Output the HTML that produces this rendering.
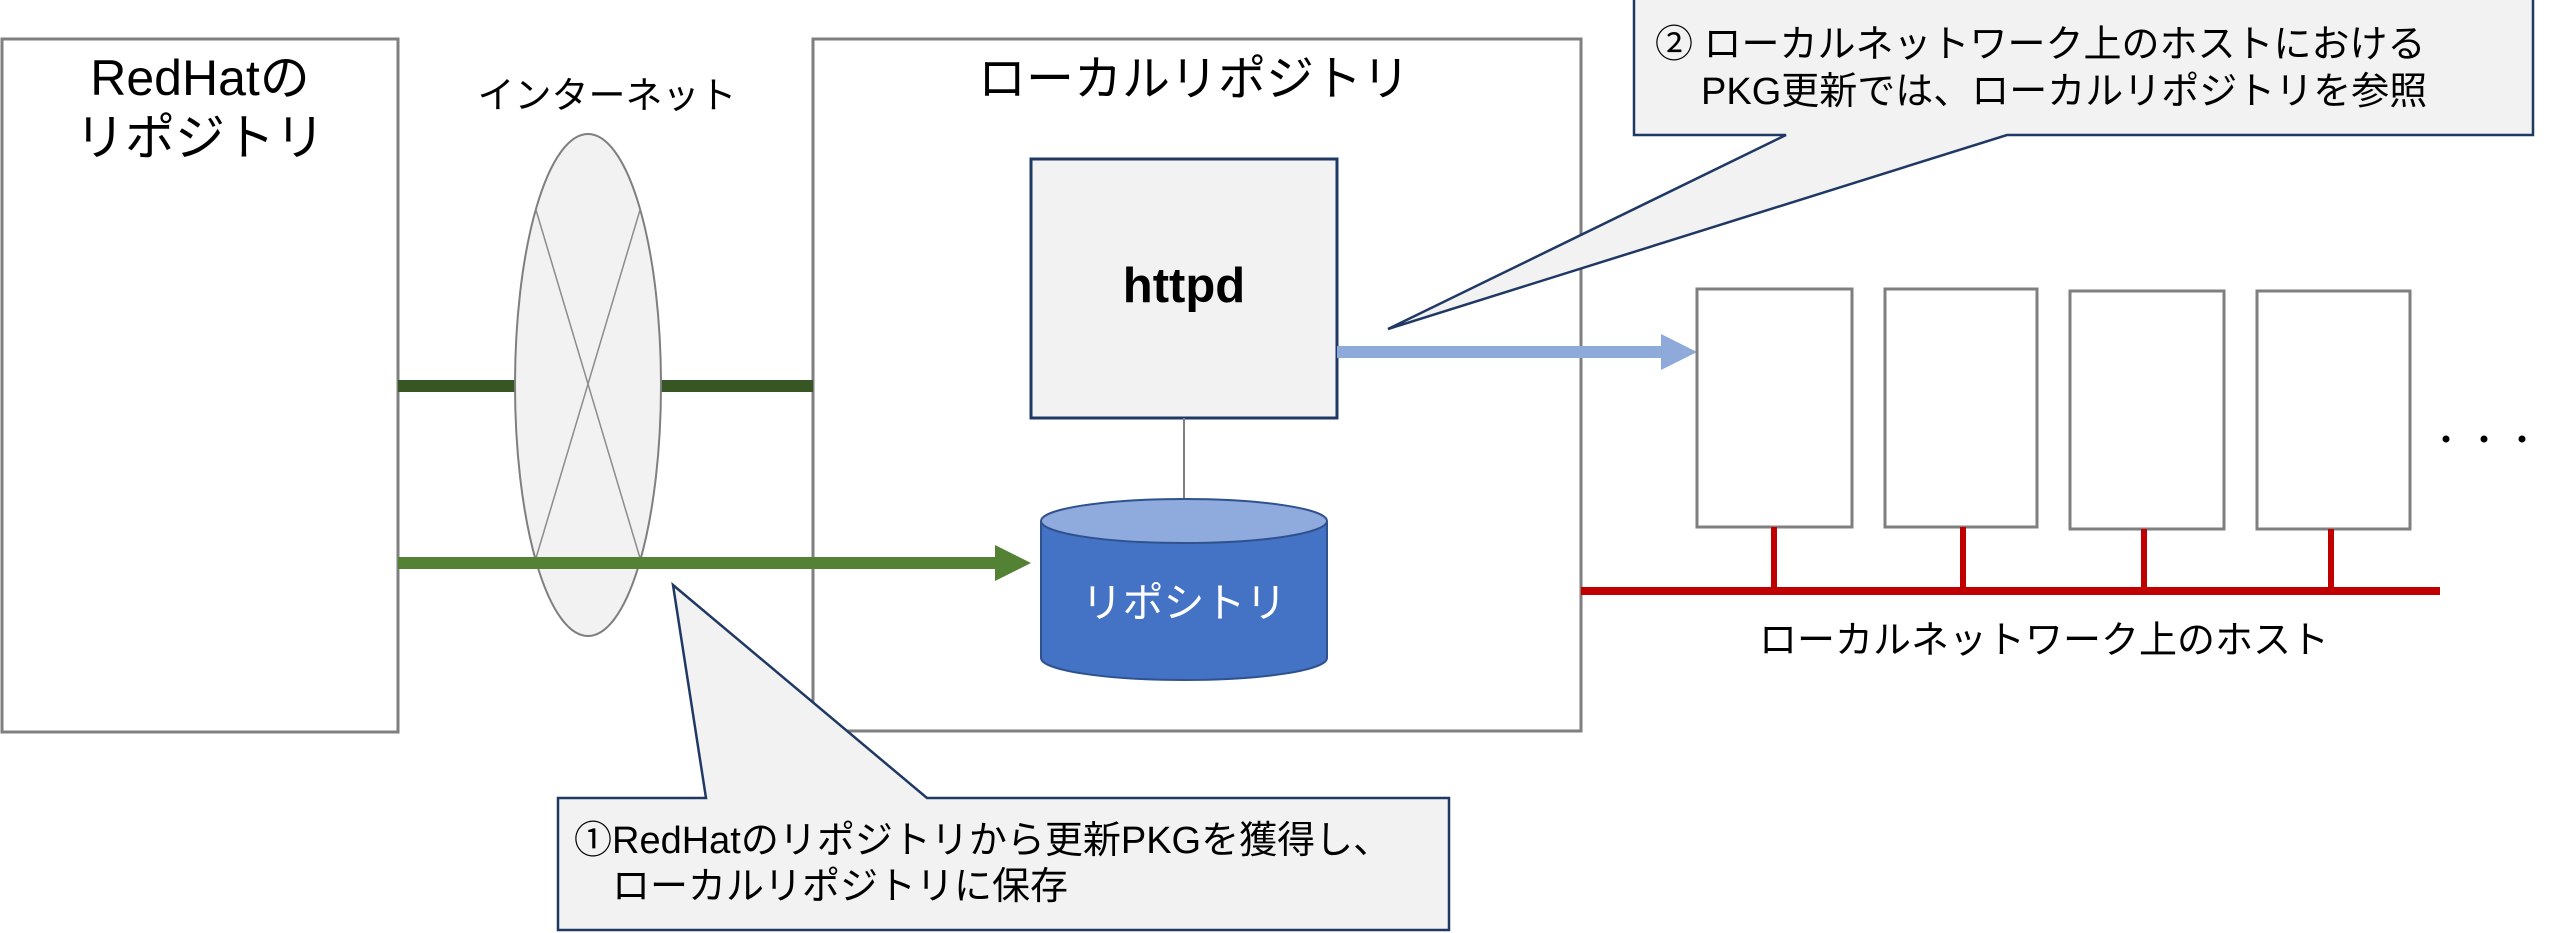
<!DOCTYPE html>
<html><head><meta charset="utf-8"><style>
html,body{margin:0;padding:0;background:#fff;}
svg{display:block;}
text{font-family:"Liberation Sans","Noto Sans CJK JP",sans-serif;}
</style></head><body>
<svg width="2560" height="933" viewBox="0 0 2560 933" xmlns="http://www.w3.org/2000/svg">
<rect x="0" y="0" width="2560" height="933" fill="#fff"/>
<rect x="2" y="39" width="396" height="693" fill="#fff" stroke="#7f7f7f" stroke-width="3"/>
<text x="200" y="95" font-size="50" text-anchor="middle" fill="#000">RedHatの</text>
<text x="200" y="155" font-size="50" text-anchor="middle" fill="#000">リポジトリ</text>
<rect x="813" y="39" width="768" height="692" fill="#fff" stroke="#7f7f7f" stroke-width="3"/>
<text x="1194" y="95" font-size="48" text-anchor="middle" fill="#000">ローカルリポジトリ</text>
<text x="607" y="108" font-size="37" text-anchor="middle" fill="#000">インターネット</text>
<rect x="398" y="380" width="415" height="12" fill="#375623"/>
<ellipse cx="588" cy="385" rx="73" ry="251" fill="#f2f2f2" stroke="#7f7f7f" stroke-width="2"/>
<line x1="536" y1="210" x2="640" y2="558" stroke="#8c8c8c" stroke-width="1.5"/>
<line x1="640" y1="210" x2="536" y2="558" stroke="#8c8c8c" stroke-width="1.5"/>
<rect x="398" y="557" width="600" height="12" fill="#548235"/>
<polygon points="995,545 1031,563 995,581" fill="#548235"/>
<rect x="1031" y="159" width="306" height="259" fill="#f2f2f2" stroke="#1f3864" stroke-width="3"/>
<text x="1184" y="302" font-size="49" font-weight="bold" text-anchor="middle" fill="#000">httpd</text>
<line x1="1184" y1="418" x2="1184" y2="499" stroke="#7f7f7f" stroke-width="2"/>
<path d="M1041,521 L1041,658 A143,22 0 0 0 1327,658 L1327,521" fill="#4472c4" stroke="#2f528f" stroke-width="2"/>
<ellipse cx="1184" cy="521" rx="143" ry="22" fill="#8faadc" stroke="#2f528f" stroke-width="2"/>
<text x="1184" y="617" font-size="41" text-anchor="middle" fill="#fff">リポシトリ</text>
<rect x="1337" y="346" width="326" height="12" fill="#8eaadb"/>
<polygon points="1661,334 1697,352 1661,370" fill="#8eaadb"/>
<g fill="#fff" stroke="#7f7f7f" stroke-width="3">
<rect x="1697" y="289" width="155" height="238"/>
<rect x="1885" y="289" width="152" height="238"/>
<rect x="2070" y="291" width="154" height="238"/>
<rect x="2257" y="291" width="153" height="238"/>
</g>
<g stroke="#c00000" stroke-width="6">
<line x1="1774" y1="527" x2="1774" y2="592"/>
<line x1="1963" y1="527" x2="1963" y2="592"/>
<line x1="2144" y1="529" x2="2144" y2="592"/>
<line x1="2331" y1="529" x2="2331" y2="592"/>
</g>
<rect x="1581" y="587" width="859" height="8" fill="#c00000"/>
<circle cx="2446" cy="439" r="3.5" fill="#000"/>
<circle cx="2484" cy="439" r="3.5" fill="#000"/>
<circle cx="2522" cy="439" r="3.5" fill="#000"/>
<text x="2044" y="653" font-size="38" text-anchor="middle" fill="#000">ローカルネットワーク上のホスト</text>
<path d="M558,798 L706,798 L673,585 L927,798 L1449,798 L1449,930 L558,930 Z" fill="#f2f2f2" stroke="#1f3864" stroke-width="2.5"/>
<text x="574" y="853" font-size="38" fill="#000">①RedHatのリポジトリから更新PKGを獲得し、</text>
<text x="612" y="899" font-size="38" fill="#000">ローカルリポジトリに保存</text>
<path d="M1634,-2 L2533,-2 L2533,135 L2007,135 L1388,329 L1786,135 L1634,135 Z" fill="#f2f2f2" stroke="#1f3864" stroke-width="2.5"/>
<text x="1655" y="57" font-size="38" fill="#000">② ローカルネットワーク上のホストにおける</text>
<text x="1701" y="104" font-size="38" fill="#000">PKG更新では、ローカルリポジトリを参照</text>
</svg>
</body></html>
